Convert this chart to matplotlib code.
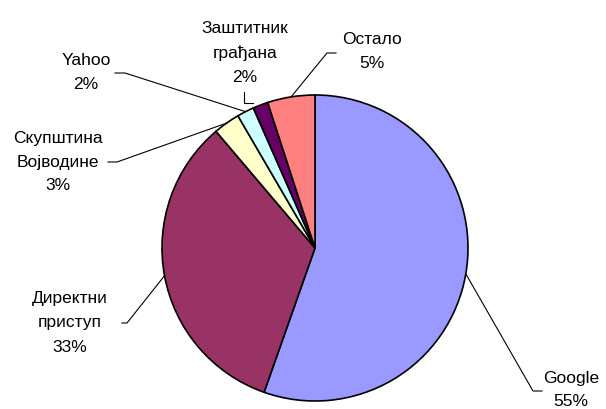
import numpy as np
import matplotlib.pyplot as plt

plt.rcParams['font.family'] = ['Liberation Sans', 'DejaVu Sans']

# ------------------ data ------------------
sources = ["Google", "Директни\nприступ", "Скупштина\nВојводине", "Yahoo",
           "Заштитник\nграђана", "Остало"]
shares = [55.4, 33.4, 2.8, 1.8, 1.6, 5.0]
colors = ["#9999FF", "#993366", "#FFFFCC", "#CCFFFF", "#660066", "#FF8080"]

# ------------------ layout (pixels of a 606x409 picture) ------------------
W, H = 606, 409
CX, CY, R = 315, 248, 153

def px(x, y):
    """pixel position -> data coords (pie radius = 1)"""
    return (x - CX) / R, (CY - y) / R

# label centre and leader elbow points for each slice
label_pos = [(571, 390), (70, 323), (58, 162), (86, 72), (245, 53), (372, 51)]
elbows = [
    [(533, 391), (542, 391)],
    [(127, 323), (122, 323)],
    [(117, 162), (108, 162)],
    [(125, 73), (115, 73)],
    [(244, 103), (244, 92)],
    [(327, 53), (336, 53)],
]

fig = plt.figure(figsize=(W / 100, H / 100), dpi=100)
ax = fig.add_axes([0, 0, 1, 1])

wedges, _ = ax.pie(shares, colors=colors, startangle=90, counterclock=False,
                   wedgeprops=dict(edgecolor="black", linewidth=1.2))

ax.set_aspect("auto")
ax.set_xlim(px(0, 0)[0], px(W, 0)[0])
ax.set_ylim(px(0, H)[1], px(0, 0)[1])
ax.axis("off")

for i, w in enumerate(wedges):
    pct = "%d%%" % round(shares[i])
    tx, ty = px(*label_pos[i])
    ax.text(tx, ty, sources[i] + "\n" + pct, ha="center", va="center",
            multialignment="center", fontsize=12.5, linespacing=1.75)

    pts = [px(x, y) for x, y in elbows[i]]
    if i == 4:
        # small bracket under the label, ends just above the slice
        start = px(253, 103)
    else:
        mid = np.deg2rad((w.theta1 + w.theta2) / 2)
        start = (np.cos(mid), np.sin(mid))
    xs = [start[0]] + [p[0] for p in pts]
    ys = [start[1]] + [p[1] for p in pts]
    ax.plot(xs, ys, color="black", linewidth=0.8)

plt.savefig("out.png", dpi=100)
